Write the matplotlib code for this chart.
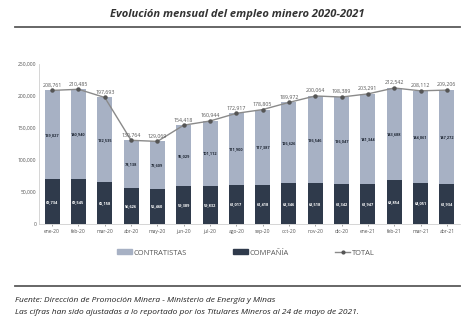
import numpy as np
import matplotlib
matplotlib.use("Agg")
import matplotlib.pyplot as plt
from matplotlib.lines import Line2D
from matplotlib.patches import Patch

plt.rcParams['font.family'] = ['Open Sans', 'DejaVu Sans']

meses = ['ene-20', 'feb-20', 'mar-20', 'abr-20', 'may-20', 'jun-20', 'jul-20', 'ago-20',
         'sep-20', 'oct-20', 'nov-20', 'dic-20', 'ene-21', 'feb-21', 'mar-21', 'abr-21']
compania = [69734, 69545, 65158, 56626, 55460, 59389, 59832, 61017,
            61418, 63346, 63518, 62342, 61947, 68854, 64051, 61934]
contratistas = [139027, 140940, 132535, 74138, 73609, 95029, 101112, 111900,
                117387, 126626, 136546, 136047, 141344, 143688, 144061, 147272]
total = [208761, 210485, 197693, 130764, 129069, 154418, 160944, 172917,
         178805, 189972, 200064, 198389, 203291, 212542, 208112, 209206]

c_light = '#a7b1c4'
c_dark = '#2f3a4b'
c_line = '#8a8a8a'

fig = plt.figure(figsize=(4.74, 3.25), dpi=100)
ax = fig.add_axes([39/474, 1 - 224/325, (460-39)/474, (224-64)/325])

x = np.arange(len(meses))
w = 0.57
ax.bar(x, compania, w, color=c_dark, zorder=2)
ax.bar(x, contratistas, w, bottom=compania, color=c_light, zorder=2)
ax.plot(x, total, color=c_line, lw=1.0, marker='o', ms=2.2,
        mfc='#555555', mec='#555555', zorder=3)

for i in range(len(meses)):
    ax.text(x[i], compania[i] / 2, f'{compania[i]:,}', ha='center', va='center',
            fontsize=2.8, color='white', fontweight='bold', zorder=4)
    ax.text(x[i], compania[i] + contratistas[i] / 2, f'{contratistas[i]:,}',
            ha='center', va='center', fontsize=2.8, color='#1e2633',
            fontweight='bold', zorder=4)
    ax.text(x[i], total[i] + 4500, f'{total[i]:,}', ha='center', va='bottom',
            fontsize=3.8, color='#555555', zorder=4)

ax.set_xlim(-0.5, 15.5)
ax.set_ylim(0, 250000)
ax.set_yticks(np.arange(0, 250001, 50000))
ax.set_yticklabels([f'{v:,}' for v in range(0, 250001, 50000)])
ax.set_xticks(x)
ax.set_xticklabels(meses)
ax.tick_params(axis='both', labelsize=3.6, colors='#555555', length=1.5, width=0.4, pad=2)
ax.tick_params(axis='y', length=0)
for s in ['top', 'right']:
    ax.spines[s].set_visible(False)
for s in ['left', 'bottom']:
    ax.spines[s].set_color('#cfcfcf')
    ax.spines[s].set_linewidth(0.6)

handles = [Patch(color=c_light), Patch(color=c_dark),
           Line2D([0], [0], color=c_line, lw=1, marker='o', ms=2,
                  mfc='#555555', mec='#555555')]
fig.legend(handles, ['CONTRATISTAS', 'COMPAÑÍA', 'TOTAL'], loc='center',
           bbox_to_anchor=(0.518, 1 - 253/325), ncol=3, frameon=False,
           fontsize=5.4, handlelength=2.0, handleheight=0.6, handletextpad=0.2,
           columnspacing=6.2, labelcolor='#555555')

fig.text(0.5, 1 - 14/325, 'Evolución mensual del empleo minero 2020-2021', ha='center',
         va='center', fontsize=8, fontstyle='italic', fontweight='bold', color='#333333')
fig.add_artist(Line2D([15/474, 460/474], [1 - 27/325] * 2, color='#5a5a5a', lw=1.3))
fig.add_artist(Line2D([15/474, 460/474], [1 - 286/325] * 2, color='#5a5a5a', lw=1.3))
fig.text(15/474, 1 - 301/325, 'Fuente: Dirección de Promoción Minera - Ministerio de Energía y Minas',
         ha='left', va='center', fontsize=6.05, fontstyle='italic', color='#222222')
fig.text(15/474, 1 - 313/325,
         'Las cifras han sido ajustadas a lo reportado por los Titulares Mineros al 24 de mayo de 2021.',
         ha='left', va='center', fontsize=6.05, fontstyle='italic', color='#222222')

fig.savefig('out.png', dpi=100)
